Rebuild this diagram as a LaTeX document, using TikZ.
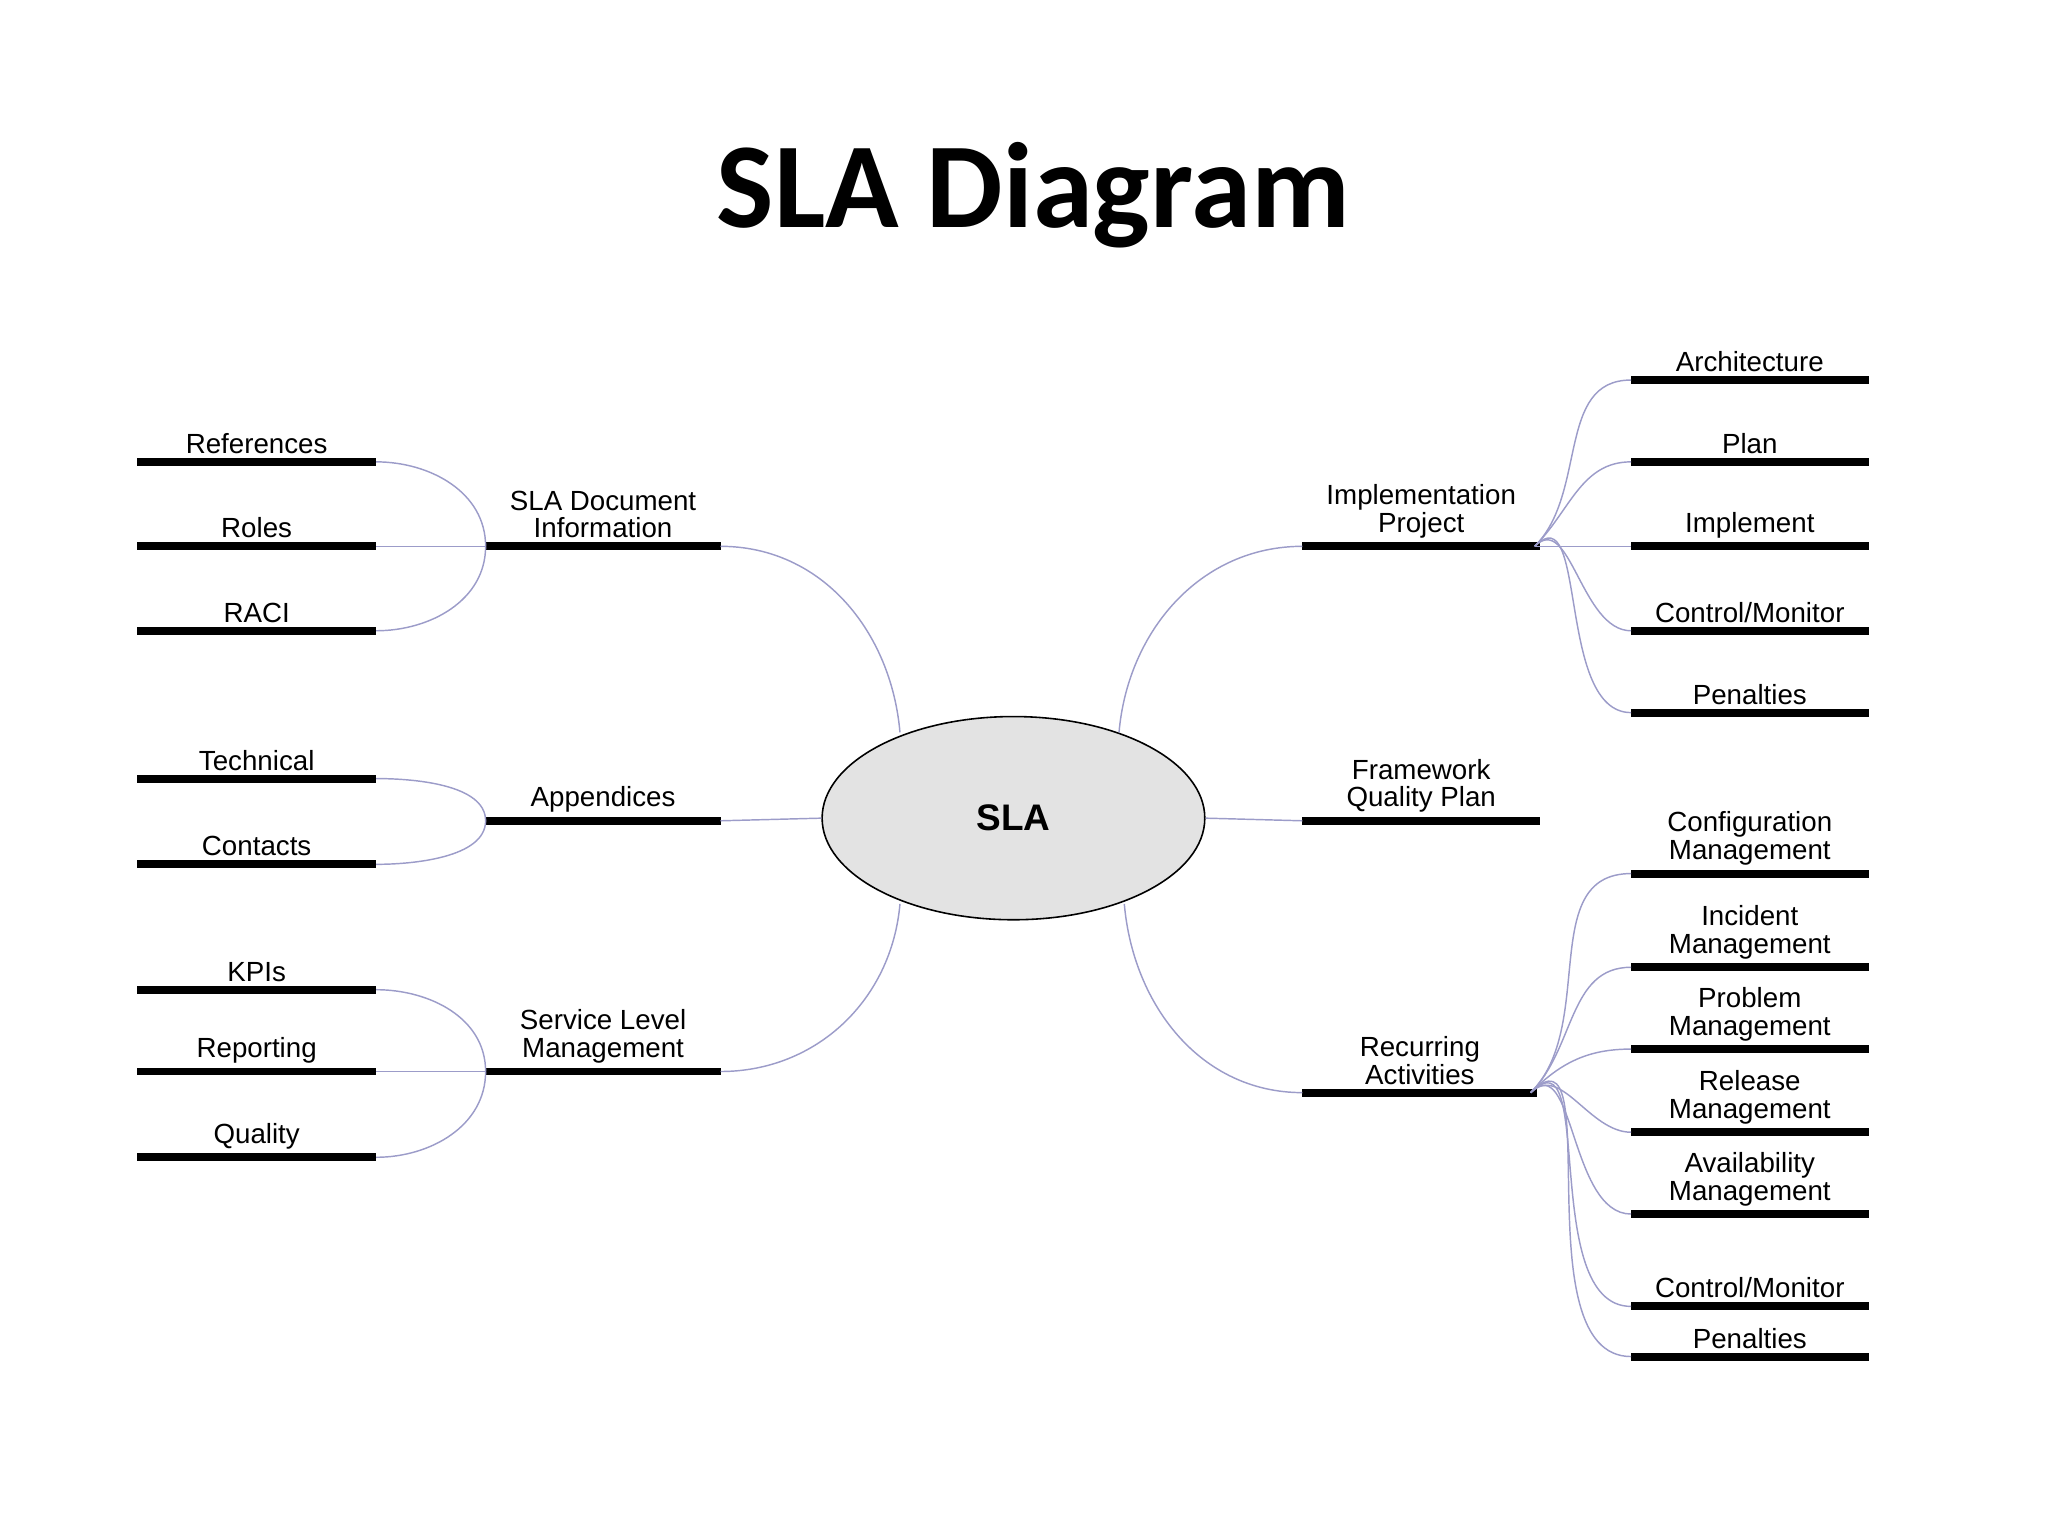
\documentclass[tikz,border=0pt]{standalone}
\usetikzlibrary{shapes.geometric}
\usepackage{fontspec}
\setmainfont{Liberation Sans}
\newfontfamily\titlefont{Carlito}
\begin{document}
\begin{tikzpicture}[x=1pt,y=-1pt,
  bar/.style={line width=6pt},
  link/.style={draw=gray!70!blue!60, line width=1.1pt},
  lab/.style={anchor=south, align=center, font=\fontsize{21}{21}\selectfont, inner sep=3pt}]
\useasboundingbox (0,0) rectangle (1552,1164);
\node[font=\titlefont\bfseries\fontsize{92}{92}\selectfont] (title) at (783,148) {SLA Diagram};
\node[draw, line width=1.2pt, fill=gray!22, ellipse, minimum width=290pt, minimum height=154pt, inner sep=0] (sla) at (768,620) {};
\node[font=\bfseries\fontsize{28}{28}\selectfont] at (sla) {SLA};
\newcommand{\mybar}[5]{%
  \coordinate (#1L) at (#2,#4); \coordinate (#1R) at (#3,#4);
  \draw[bar] (#1L) -- (#1R);
  \node[lab] (#1) at ({(#2+#3)/2},#4-3) {#5};}
\mybar{doc}{368}{546}{414}{SLA Document\\Information}
\mybar{app}{368}{546}{622}{Appendices}
\mybar{slm}{368}{546}{812}{Service Level\\Management}
\mybar{ref}{104}{285}{350}{References}
\mybar{rol}{104}{285}{414}{Roles}
\mybar{rac}{104}{285}{478}{RACI}
\mybar{tec}{104}{285}{590}{Technical}
\mybar{con}{104}{285}{655}{Contacts}
\mybar{kpi}{104}{285}{750}{KPIs}
\mybar{rep}{104}{285}{812}{Reporting}
\mybar{qua}{104}{285}{877}{Quality}
\mybar{imp}{987}{1167}{414}{Implementation\\Project}
\mybar{fra}{987}{1167}{622}{Framework\\Quality Plan}
\mybar{rec}{987}{1165}{828}{Recurring\\Activities}
\mybar{arc}{1236}{1416}{288}{Architecture}
\mybar{pla}{1236}{1416}{350}{Plan}
\mybar{imq}{1236}{1416}{414}{Implement}
\mybar{cm1}{1236}{1416}{478}{Control/Monitor}
\mybar{pe1}{1236}{1416}{540}{Penalties}
\mybar{cfg}{1236}{1416}{662}{Configuration\\Management}
\mybar{inc}{1236}{1416}{733}{Incident\\Management}
\mybar{pro}{1236}{1416}{795}{Problem\\Management}
\mybar{rel}{1236}{1416}{858}{Release\\Management}
\mybar{ava}{1236}{1416}{920}{Availability\\Management}
\mybar{cm2}{1236}{1416}{990}{Control/Monitor}
\mybar{pe2}{1236}{1416}{1028}{Penalties}
\draw[link] (refR) to[out=0,in=90] (docL);
\draw[link] (rolR) -- (docL);
\draw[link] (racR) to[out=0,in=-90] (docL);
\draw[link] (tecR) to[out=0,in=90,looseness=0.8] (appL);
\draw[link] (conR) to[out=0,in=-90,looseness=0.8] (appL);
\draw[link] (kpiR) to[out=0,in=90] (slmL);
\draw[link] (repR) -- (slmL);
\draw[link] (quaR) to[out=0,in=-90] (slmL);
\coordinate (e1) at (682,555); \coordinate (e2) at (682,685);
\coordinate (e3) at (848,555); \coordinate (e4) at (852,685);
\draw[link] (docR) to[out=0,in=95] (e1);
\draw[link] (appR) -- (sla.west);
\draw[link] (slmR) to[out=0,in=-95] (e2);
\draw[link] (impL) to[out=180,in=85] (e3);
\draw[link] (fraL) -- (sla.east);
\draw[link] (recL) to[out=180,in=-85] (e4);
\coordinate (ih) at (1163,414);
\foreach \n in {arc,pla,cm1,pe1} \draw[link] (ih) to[in=180] (\n L);
\draw[link] (ih) -- (imqL);
\coordinate (rh) at (1160,828);
\foreach \n in {cfg,inc,pro,rel,ava,cm2,pe2} \draw[link] (rh) to[in=180] (\n L);
\end{tikzpicture}
\end{document}
